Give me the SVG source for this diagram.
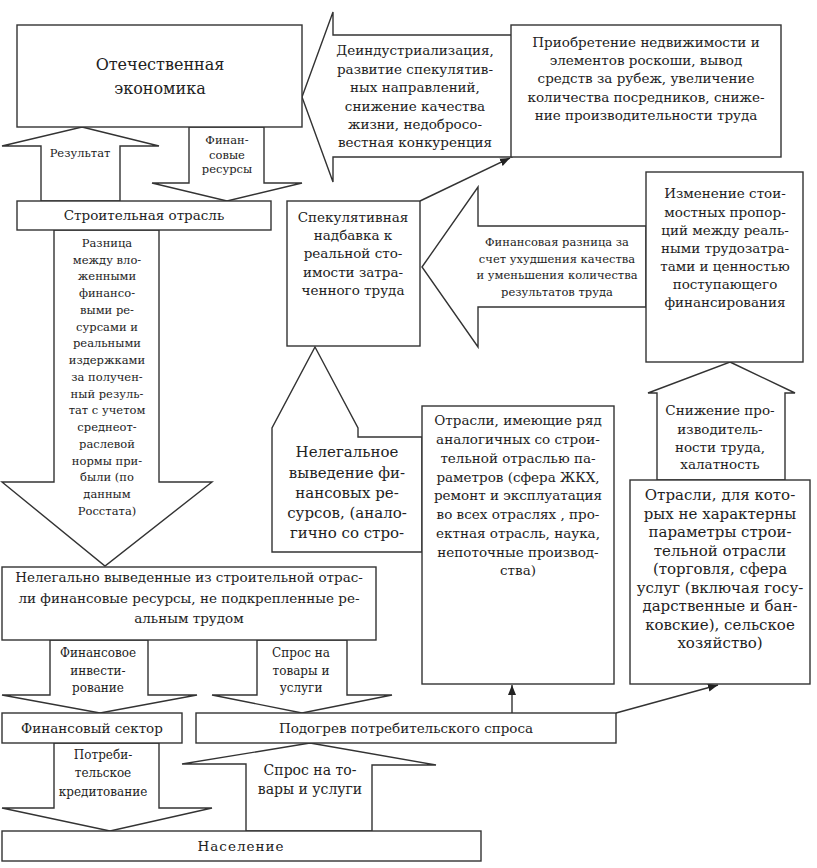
<svg xmlns="http://www.w3.org/2000/svg" width="817" height="868" viewBox="0 0 817 868">
<defs>
<style>
.bx{fill:#fff;stroke:#333;stroke-width:1.4}
.ba{fill:#fff;stroke:#333;stroke-width:1.4;stroke-linejoin:miter}
.ln{fill:none;stroke:#333;stroke-width:1.4}
text{font-family:"DejaVu Serif","Liberation Serif",serif;fill:#222;text-anchor:middle;dominant-baseline:central}
.s115{font-size:11.5px}
.s12{font-size:12px}
.s135{font-size:13.5px}
.s14{font-size:14px}
.s15{font-size:15px}
.s16{font-size:16px}
</style>
<marker id="ah" viewBox="0 0 10 10" refX="10" refY="5" markerWidth="10" markerHeight="10" markerUnits="userSpaceOnUse" orient="auto">
<path d="M0,1 L10,5 L0,9 Z" fill="#222"/>
</marker>
</defs>
<rect width="817" height="868" fill="#fff"/>

<g id="connectors">
  <g id="arr-result">
    <polygon class="ba" points="82,127 159,146 120,146 120,201 41,201 41,146 2,146"/>
    <text class="s115" x="80" y="153">Результат</text>
  </g>
  <g id="arr-finres">
    <polygon class="ba" points="189,127 264,127 264,183 302,183 227,201 152,183 189,183"/>
    <text class="s115" x="227" y="140">Финан-</text>
    <text class="s115" x="227" y="155">совые</text>
    <text class="s115" x="227" y="169">ресурсы</text>
  </g>
  <g id="arr-deind">
    <polygon class="ba" points="302,97 333,12 333,35 512,35 512,157 333,157 333,182"/>
    <text class="s135" x="415" y="50">Деиндустриализация,</text>
    <text class="s135" x="415" y="69">развитие спекулятив-</text>
    <text class="s135" x="415" y="87">ных направлений,</text>
    <text class="s135" x="415" y="106">снижение качества</text>
    <text class="s135" x="415" y="124">жизни, недобросо-</text>
    <text class="s135" x="415" y="142">вестная конкуренция</text>
  </g>
  <g id="arr-raznica">
    <polygon class="ba" points="54,230 159,230 159,482 212,482 105,566 2,482 54,482"/>
    <text class="s115" x="107" y="243">Разница</text>
    <text class="s115" x="107" y="260">между вло-</text>
    <text class="s115" x="107" y="276">женными</text>
    <text class="s115" x="107" y="293">финансо-</text>
    <text class="s115" x="107" y="310">выми ре-</text>
    <text class="s115" x="107" y="327">сурсами и</text>
    <text class="s115" x="107" y="343">реальными</text>
    <text class="s115" x="107" y="360">издержками</text>
    <text class="s115" x="107" y="377">за получен-</text>
    <text class="s115" x="107" y="394">ный резуль-</text>
    <text class="s115" x="107" y="410">тат с учетом</text>
    <text class="s115" x="107" y="427">среднеот-</text>
    <text class="s115" x="107" y="444">раслевой</text>
    <text class="s115" x="107" y="461">нормы при-</text>
    <text class="s115" x="107" y="477">были (по</text>
    <text class="s115" x="107" y="494">данным</text>
    <text class="s115" x="107" y="511">Росстата)</text>
  </g>
  <g id="arr-finrazn">
    <polygon class="ba" points="422,267 478,187 478,226 646,226 646,307 478,307 478,347"/>
    <text class="s115" x="557" y="242">Финансовая разница за</text>
    <text class="s115" x="557" y="259">счет ухудшения качества</text>
    <text class="s115" x="557" y="275">и уменьшения количества</text>
    <text class="s115" x="557" y="292">результатов труда</text>
  </g>
  <g id="arr-snizh">
    <polygon class="ba" points="730,362 795,393 785,393 785,480 657,480 657,393 648,393"/>
    <text class="s135" x="720" y="410">Снижение про-</text>
    <text class="s135" x="720" y="429">изводитель-</text>
    <text class="s135" x="720" y="447">ности труда,</text>
    <text class="s135" x="720" y="464">халатность</text>
  </g>
  <g id="arr-nelegal">
    <polygon class="ba" points="315,347 358,428 358,437 422,437 422,552 272,552 272,428"/>
    <text class="s15" x="347" y="452">Нелегальное</text>
    <text class="s15" x="347" y="473">выведение фи-</text>
    <text class="s15" x="347" y="493">нансовых ре-</text>
    <text class="s15" x="347" y="513">сурсов, (анало-</text>
    <text class="s15" x="347" y="533">гично со стро-</text>
  </g>
  <g id="arr-fininv">
    <polygon class="ba" points="50,640 148,640 148,695 197,695 100,713 2,695 50,695"/>
    <text class="s12" x="98" y="653">Финансовое</text>
    <text class="s12" x="98" y="671">инвести-</text>
    <text class="s12" x="98" y="688">рование</text>
  </g>
  <g id="arr-spros1">
    <polygon class="ba" points="257,640 347,640 347,695 392,695 302,713 212,695 257,695"/>
    <text class="s12" x="301" y="653">Спрос на</text>
    <text class="s12" x="301" y="671">товары и</text>
    <text class="s12" x="301" y="688">услуги</text>
  </g>
  <g id="arr-kredit">
    <polygon class="ba" points="54,743 159,743 159,808 212,808 110,831 2,808 54,808"/>
    <text class="s12" x="103" y="755">Потреби-</text>
    <text class="s12" x="103" y="773">тельское</text>
    <text class="s12" x="103" y="792">кредитование</text>
  </g>
  <g id="arr-spros2">
    <polygon class="ba" points="310,743 436,765 372,765 372,831 246,831 246,764 182,764"/>
    <text class="s14" x="310" y="770">Спрос на то-</text>
    <text class="s14" x="310" y="789">вары и услуги</text>
  </g>
  <line class="ln" x1="420" y1="201" x2="510" y2="158" marker-end="url(#ah)"/>
  <line class="ln" x1="512" y1="713" x2="512" y2="685" marker-end="url(#ah)"/>
  <line class="ln" x1="616" y1="713" x2="718" y2="685" marker-end="url(#ah)"/>
</g>

<g id="nodes">
<g id="n-economy">
  <rect class="bx" x="17" y="25" width="285" height="102"/>
  <text class="s16" x="160" y="64">Отечественная</text>
  <text class="s16" x="160" y="88">экономика</text>
</g>
<g id="n-purchase">
  <rect class="bx" x="511" y="25" width="270" height="132"/>
  <text class="s135" x="646" y="42">Приобретение недвижимости и</text>
  <text class="s135" x="646" y="60">элементов роскоши, вывод</text>
  <text class="s135" x="646" y="78">средств за рубеж, увеличение</text>
  <text class="s135" x="646" y="97">количества посредников, сниже-</text>
  <text class="s135" x="646" y="115">ние производительности труда</text>
</g>
<g id="n-construction">
  <rect class="bx" x="17" y="201" width="254" height="29"/>
  <text class="s135" x="144" y="215">Строительная отрасль</text>
</g>
<g id="n-speculative">
  <rect class="bx" x="287" y="201" width="133" height="145"/>
  <text class="s135" x="353" y="217">Спекулятивная</text>
  <text class="s135" x="353" y="235">надбавка к</text>
  <text class="s135" x="353" y="253">реальной сто-</text>
  <text class="s135" x="353" y="272">имости затра-</text>
  <text class="s135" x="353" y="290">ченного труда</text>
</g>
<g id="n-change">
  <rect class="bx" x="646" y="172" width="157" height="190"/>
  <text class="s135" x="725" y="193">Изменение стои-</text>
  <text class="s135" x="725" y="212">мостных пропор-</text>
  <text class="s135" x="725" y="230">ций между реаль-</text>
  <text class="s135" x="725" y="248">ными трудозатра-</text>
  <text class="s135" x="725" y="266">тами и ценностью</text>
  <text class="s135" x="725" y="284">поступающего</text>
  <text class="s135" x="725" y="302">финансирования</text>
</g>
<g id="n-similar">
  <rect class="bx" x="422" y="406" width="192" height="278"/>
  <text class="s135" x="518" y="420">Отрасли, имеющие ряд</text>
  <text class="s135" x="518" y="439">аналогичных со строи-</text>
  <text class="s135" x="518" y="458">тельной отраслью па-</text>
  <text class="s135" x="518" y="477">раметров (сфера ЖКХ,</text>
  <text class="s135" x="518" y="495">ремонт и эксплуатация</text>
  <text class="s135" x="518" y="514">во всех отраслях , про-</text>
  <text class="s135" x="518" y="533">ектная отрасль, наука,</text>
  <text class="s135" x="518" y="552">непоточные производ-</text>
  <text class="s135" x="518" y="570">ства)</text>
</g>
<g id="n-other">
  <rect class="bx" x="630" y="480" width="180" height="204"/>
  <text class="s15" x="720" y="495">Отрасли, для кото-</text>
  <text class="s15" x="720" y="514">рых не характерны</text>
  <text class="s15" x="720" y="532">параметры строи-</text>
  <text class="s15" x="720" y="551">тельной отрасли</text>
  <text class="s15" x="720" y="569">(торговля, сфера</text>
  <text class="s15" x="720" y="588">услуг (включая госу-</text>
  <text class="s15" x="720" y="606">дарственные и бан-</text>
  <text class="s15" x="720" y="625">ковские), сельское</text>
  <text class="s15" x="720" y="643">хозяйство)</text>
</g>
<g id="n-illegal">
  <rect class="bx" x="2" y="567" width="374" height="73"/>
  <text class="s135" x="189" y="577">Нелегально выведенные из строительной отрас-</text>
  <text class="s135" x="189" y="598">ли финансовые ресурсы, не подкрепленные ре-</text>
  <text class="s135" x="189" y="618">альным трудом</text>
</g>
<g id="n-finsector">
  <rect class="bx" x="2" y="713" width="180" height="30"/>
  <text class="s135" x="92" y="728">Финансовый сектор</text>
</g>
<g id="n-heating">
  <rect class="bx" x="196" y="713" width="420" height="30"/>
  <text class="s135" x="406" y="728">Подогрев потребительского спроса</text>
</g>
<g id="n-population">
  <rect class="bx" x="2" y="831" width="479" height="30"/>
  <text class="s135" x="241" y="846" letter-spacing="1">Население</text>
</g>
</g>
</svg>
